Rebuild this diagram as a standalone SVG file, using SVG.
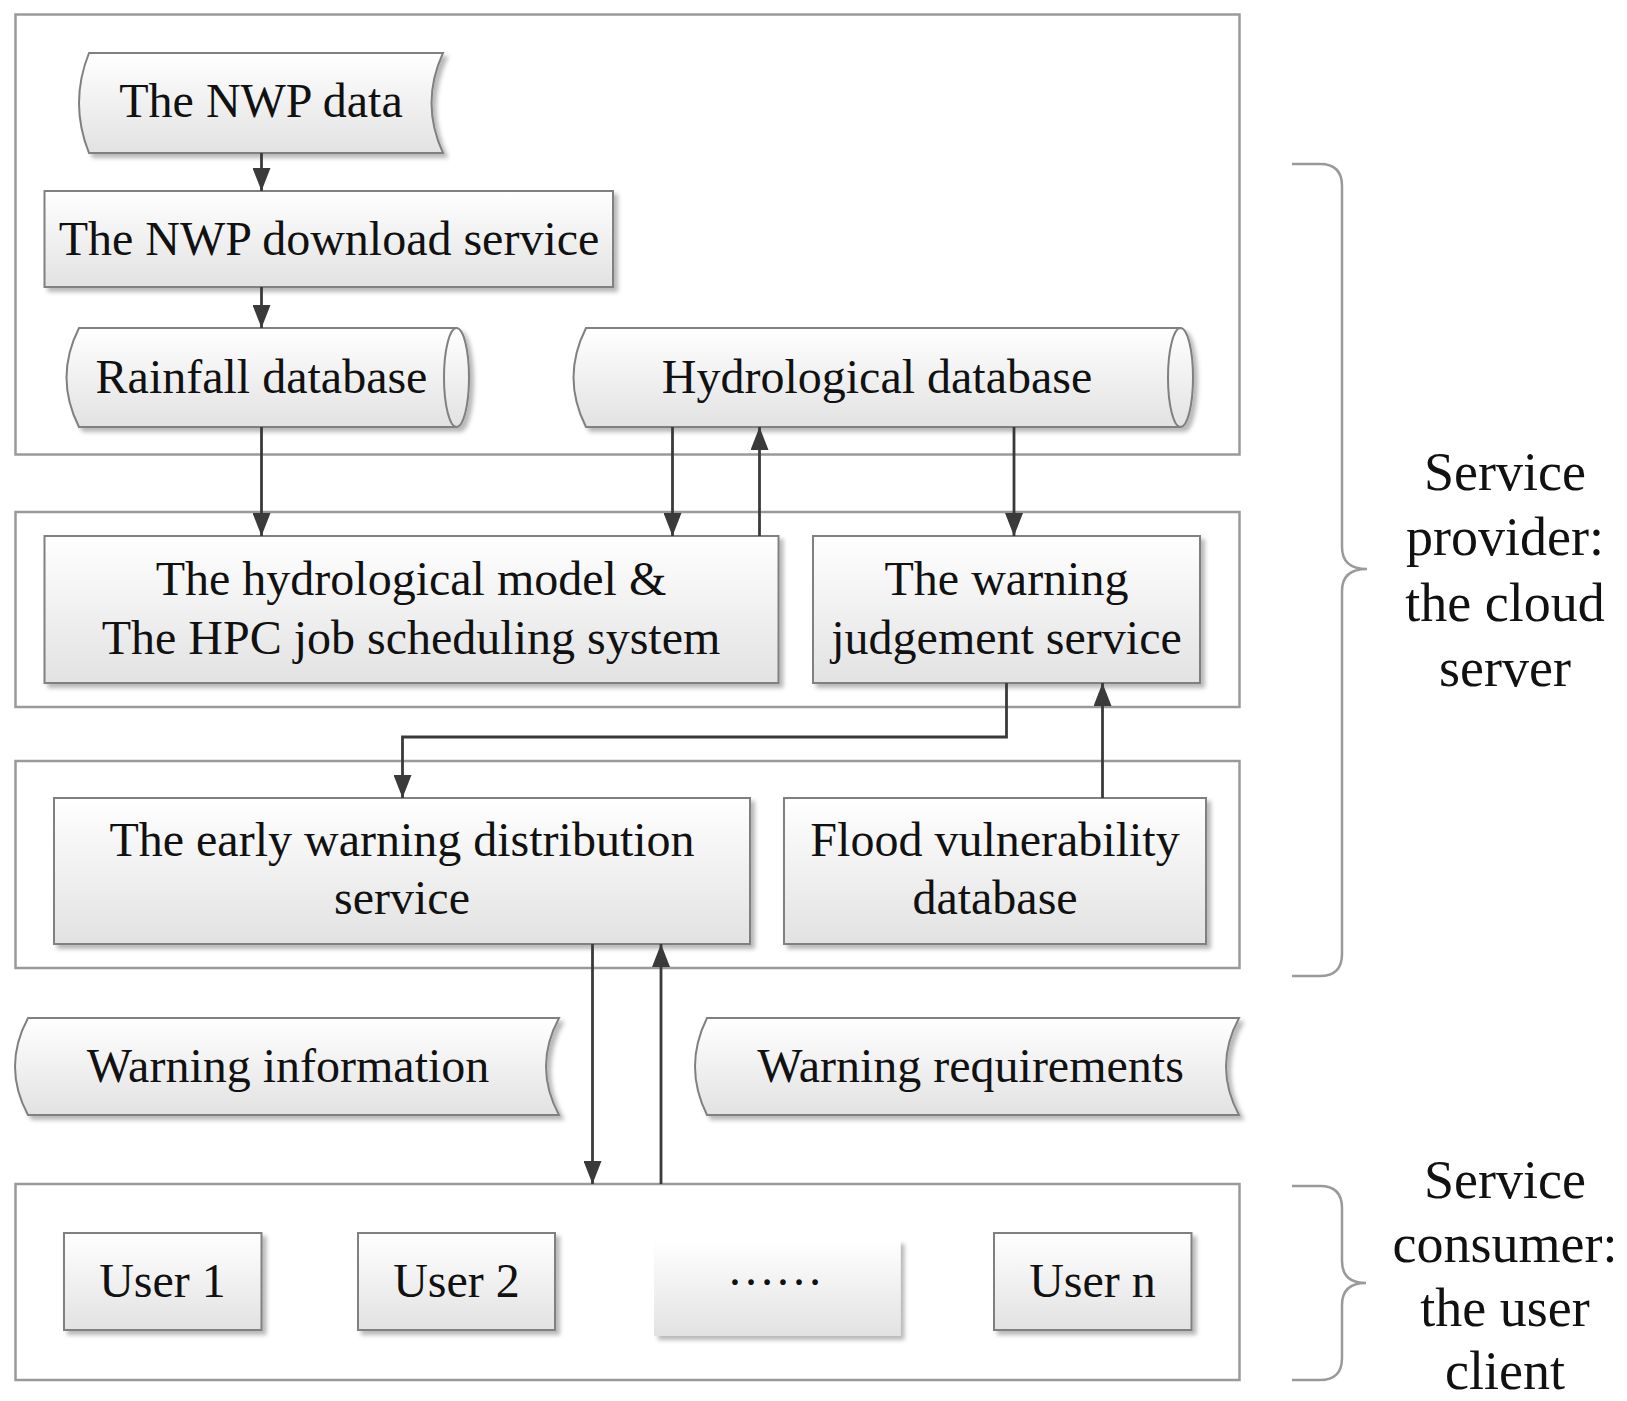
<svg xmlns="http://www.w3.org/2000/svg" width="1627" height="1401" viewBox="0 0 1627 1401">
<defs>
<linearGradient id="g" x1="0" y1="0" x2="0" y2="1">
<stop offset="0" stop-color="#ffffff"/>
<stop offset="1" stop-color="#e2e2e2"/>
</linearGradient>
<filter id="sh" x="-10%" y="-10%" width="125%" height="130%">
<feDropShadow dx="4" dy="4" stdDeviation="2" flood-color="#000" flood-opacity="0.28"/>
</filter>
<marker id="ah" markerUnits="userSpaceOnUse" markerWidth="24" markerHeight="18" refX="23" refY="9" orient="auto">
<path d="M0,0 L23,9 L0,18 Z" fill="#3a3a3a"/>
</marker>
</defs>
<style>
.panel{fill:#ffffff;stroke:#9a9a9a;stroke-width:2.5}
.node{fill:url(#g);stroke:#808080;stroke-width:2;filter:url(#sh)}
.plain{fill:url(#g);filter:url(#sh)}
.line{fill:none;stroke:#808080;stroke-width:2}
.t{font-family:"Liberation Serif","Times New Roman",serif;font-size:48px;fill:#111;text-anchor:middle}
.side{font-family:"Liberation Serif","Times New Roman",serif;font-size:54px;fill:#111;text-anchor:middle}
.conn{fill:none;stroke:#3a3a3a;stroke-width:2.8;marker-end:url(#ah)}
.brace{fill:none;stroke:#9a9a9a;stroke-width:2.5}
</style>
<rect width="1627" height="1401" fill="#ffffff"/>

<g id="panels">
<rect class="panel" x="15.5" y="14.5" width="1224" height="440"/>
<rect class="panel" x="15.5" y="512" width="1224" height="195"/>
<rect class="panel" x="15.5" y="761" width="1224" height="207"/>
<rect class="panel" x="15.5" y="1184" width="1224" height="196"/>
</g>

<g id="nwp-data">
<path class="node" d="M89,53 L443,53 Q420,103 443,153 L89,153 Q69,103 89,53 Z"/>
<text class="t" x="261" y="117">The NWP data</text>
</g>

<g id="nwp-download">
<rect class="node" x="44.5" y="191" width="568.5" height="96"/>
<text class="t" x="329" y="255">The NWP download service</text>
</g>

<g id="rainfall-db">
<path class="node" d="M79,328 L456.5,328 A12.5,49.5 0 0 1 456.5,427 L79,427 Q54,377.5 79,328 Z"/>
<path class="line" d="M456.5,328 A12.5,49.5 0 0 0 456.5,427"/>
<text class="t" x="261.5" y="393">Rainfall database</text>
</g>

<g id="hydro-db">
<path class="node" d="M586,328 L1180.5,328 A12.5,49.5 0 0 1 1180.5,427 L586,427 Q561,377.5 586,328 Z"/>
<path class="line" d="M1180.5,328 A12.5,49.5 0 0 0 1180.5,427"/>
<text class="t" x="877" y="393">Hydrological database</text>
</g>

<g id="hydro-model">
<rect class="node" x="44.5" y="536" width="734" height="147"/>
<text class="t" x="411" y="595">The hydrological model &amp;</text>
<text class="t" x="411" y="654">The HPC job scheduling system</text>
</g>

<g id="warning-judgement">
<rect class="node" x="813" y="536" width="387" height="147"/>
<text class="t" x="1006.5" y="595">The warning</text>
<text class="t" x="1006.5" y="654">judgement service</text>
</g>

<g id="early-warning">
<rect class="node" x="54" y="798" width="696" height="146"/>
<text class="t" x="402" y="856">The early warning distribution</text>
<text class="t" x="402" y="914">service</text>
</g>

<g id="flood-db">
<rect class="node" x="784" y="798" width="422" height="146"/>
<text class="t" x="995" y="856">Flood vulnerability</text>
<text class="t" x="995" y="914">database</text>
</g>

<g id="warning-info">
<path class="node" d="M28,1018 L559,1018 Q533,1066.5 559,1115 L28,1115 Q2,1066.5 28,1018 Z"/>
<text class="t" x="288" y="1082">Warning information</text>
</g>

<g id="warning-req">
<path class="node" d="M707,1018 L1239,1018 Q1213,1066.5 1239,1115 L707,1115 Q683,1066.5 707,1018 Z"/>
<text class="t" x="970.5" y="1082">Warning requirements</text>
</g>

<g id="user1">
<rect class="node" x="64" y="1233" width="197.5" height="97"/>
<text class="t" x="162.5" y="1297">User 1</text>
</g>

<g id="user2">
<rect class="node" x="358" y="1233" width="197" height="97"/>
<text class="t" x="456.5" y="1297">User 2</text>
</g>

<g id="user-more">
<rect class="plain" x="654" y="1240" width="246.5" height="96"/>
<text class="t" x="775" y="1285">……</text>
</g>

<g id="usern">
<rect class="node" x="994" y="1233" width="197.5" height="97"/>
<text class="t" x="1092.5" y="1297">User n</text>
</g>

<g id="connectors">
<line class="conn" x1="261.5" y1="153" x2="261.5" y2="191"/>
<line class="conn" x1="261.5" y1="287" x2="261.5" y2="328"/>
<line class="conn" x1="261.5" y1="427" x2="261.5" y2="536"/>
<line class="conn" x1="672.5" y1="427" x2="672.5" y2="536"/>
<line class="conn" x1="759.5" y1="536" x2="759.5" y2="427"/>
<line class="conn" x1="1014" y1="427" x2="1014" y2="536"/>
<polyline class="conn" points="1006.5,683 1006.5,737 402.5,737 402.5,798"/>
<line class="conn" x1="1102.5" y1="798" x2="1102.5" y2="683"/>
<line class="conn" x1="592.5" y1="944" x2="592.5" y2="1184"/>
<line class="conn" x1="661" y1="1184" x2="661" y2="944"/>
</g>

<g id="provider-brace">
<path class="brace" d="M1292,164 L1320,164 Q1342,164 1342,186 L1342,547 Q1342,569 1367,569 Q1342,569 1342,591 L1342,954 Q1342,976 1320,976 L1292,976"/>
<text class="side" x="1505" y="490">Service</text>
<text class="side" x="1505" y="555">provider:</text>
<text class="side" x="1505" y="621">the cloud</text>
<text class="side" x="1505" y="686">server</text>
</g>

<g id="consumer-brace">
<path class="brace" d="M1292,1186 L1320,1186 Q1342,1186 1342,1208 L1342,1261 Q1342,1283 1366,1283 Q1342,1283 1342,1305 L1342,1358 Q1342,1380 1320,1380 L1292,1380"/>
<text class="side" x="1505" y="1198">Service</text>
<text class="side" x="1505" y="1262">consumer:</text>
<text class="side" x="1505" y="1326">the user</text>
<text class="side" x="1505" y="1389">client</text>
</g>
</svg>
